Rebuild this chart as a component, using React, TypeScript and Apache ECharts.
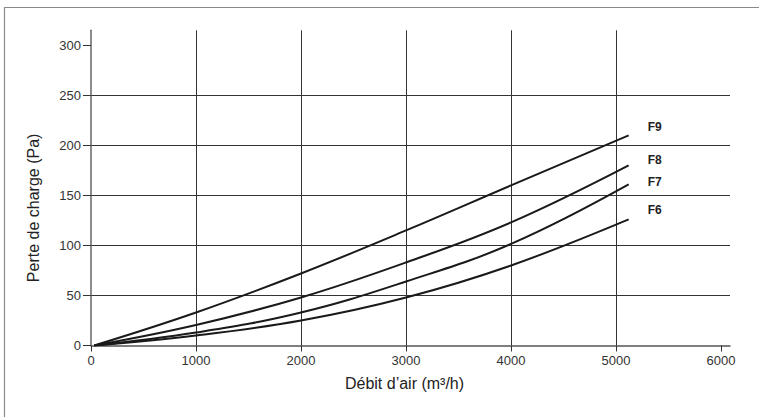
import React, { useEffect, useRef } from "react";
import * as echarts from "echarts";

const flow = [30, 1000, 2000, 3000, 4000, 5120];
const f9 = [0, 33, 72, 115, 160, 210];
const f8 = [0, 20.5, 48, 83, 123, 180];
const f7 = [0, 13, 33, 64, 101.5, 161];
const f6 = [0, 10, 25, 48, 80, 126];
const seriesNames = ["F9", "F8", "F7", "F6"];
const seriesValues = [f9, f8, f7, f6];
const labelOffsets = [[11, -8], [11, -5], [11, -2], [11, -9]];
const xTicks = [0, 1000, 2000, 3000, 4000, 5000, 6000];
const yTicks = [0, 50, 100, 150, 200, 250, 300];

const FONT = "'Liberation Sans', Arial, Helvetica, sans-serif";

export default function App() {
  const ref = useRef<HTMLDivElement>(null);
  useEffect(() => {
    const chart = echarts.init(ref.current!, null, { renderer: "svg" });
    const gridColor = "#333";
    chart.setOption({
      animation: false,
      backgroundColor: "#fff",
      textStyle: { fontFamily: FONT },
      grid: { left: 91, right: 29, top: 30.3, bottom: 71.5, containLabel: false },
      graphic: [
        {
          type: "polyline",
          shape: { points: [[4.5, 417], [4.5, 7.5], [759, 7.5]] },
          style: { stroke: "#8a8a8a", lineWidth: 1.2, fill: "none" },
          silent: true,
        },
      ],
      xAxis: {
        type: "value",
        min: 0,
        max: 6085,
        interval: 1000,
        name: "Débit d’air (m³/h)",
        nameLocation: "middle",
        nameGap: 30,
        nameTextStyle: { fontSize: 16, color: "#222", fontFamily: FONT, padding: [0, 12, 0, 0] },
        axisLine: { show: true, lineStyle: { color: "#555", width: 1.5 } },
        axisTick: { show: true, length: 6, customValues: xTicks, lineStyle: { color: gridColor, width: 1 } },
        axisLabel: {
          fontSize: 13,
          color: "#333",
          margin: 8,
          showMaxLabel: false,
          fontFamily: FONT,
          formatter: (v: number) => String(v),
        },
        splitLine: { show: true, showMinLine: false, showMaxLine: false, lineStyle: { color: gridColor, width: 1 } },
      },
      yAxis: {
        type: "value",
        min: 0,
        max: 315,
        interval: 50,
        name: "Perte de charge (Pa)",
        nameLocation: "middle",
        nameGap: 50,
        nameRotate: 90,
        nameTextStyle: { fontSize: 16, color: "#222", fontFamily: FONT, padding: [0, 40, 0, 0] },
        axisLine: { show: true, lineStyle: { color: "#666", width: 1.5 } },
        axisTick: { show: true, length: 8, customValues: yTicks, lineStyle: { color: gridColor, width: 1 } },
        axisLabel: {
          fontSize: 13,
          color: "#333",
          margin: 10,
          showMaxLabel: false,
          fontFamily: FONT,
          formatter: (v: number) => String(v),
        },
        splitLine: { show: true, showMinLine: false, showMaxLine: false, lineStyle: { color: gridColor, width: 1 } },
      },
      series: seriesNames.map((name, i) => ({
        name,
        type: "line",
        data: flow.map((x, j) => [x, seriesValues[i][j]]),
        smooth: 0.4,
        showSymbol: false,
        symbol: "none",
        lineStyle: { color: "#1a1a1a", width: 2 },
        endLabel: {
          show: true,
          formatter: name,
          offset: labelOffsets[i],
          fontSize: 12,
          fontWeight: "bold",
          color: "#222",
          fontFamily: FONT,
        },
      })),
    });
    return () => chart.dispose();
  }, []);
  return (
    <div
      ref={ref}
      style={{ position: "absolute", left: 0, top: 0, width: 759, height: 417 }}
    />
  );
}
